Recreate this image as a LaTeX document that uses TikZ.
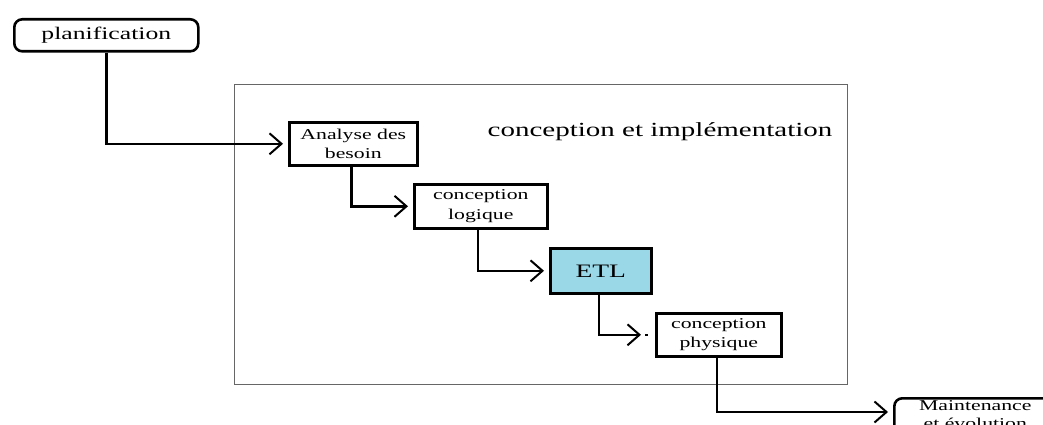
\documentclass[tikz,border=0pt]{standalone}
\usepackage{fontspec}
\setmainfont{Liberation Serif}[FakeStretch=1.45]
\usetikzlibrary{arrows.meta}
\definecolor{etlblue}{HTML}{9AD8E8}
\begin{document}
\begin{tikzpicture}[x=1pt,y=-1pt,
  stepbox/.style={draw,line width=2.6pt,align=center,inner sep=0pt,anchor=north west,
    font=\fontsize{15}{19.5}\selectfont},
  phasebox/.style={draw,line width=2.6pt,rounded corners=8pt,align=center,inner sep=0pt,anchor=north west},
  flow/.style={line width=2.6pt,-{Straight Barb[length=12pt,width=21pt,line width=2pt]}}]
\useasboundingbox (0,0) rectangle (1043,425);
\clip (0,0) rectangle (1043,425);
% outer frame of the design phase
\draw[line width=0.9pt,black!60] (234,84) rectangle (847,384);
\node[font=\fontsize{20}{22}\selectfont] (title) at (660,132) {conception et implémentation};
% phase and step boxes
\node[phasebox,minimum width=184pt,minimum height=32pt,font=\fontsize{17.7}{20}\selectfont] (plan) at (13,18) {planification};
\node[stepbox,minimum width=128pt,minimum height=43pt] (ab) at (288,121) {Analyse des\\besoin};
\node[stepbox,minimum width=133pt,minimum height=44pt] (cl) at (413,183) {conception\\logique};
\node[stepbox,fill=etlblue,minimum width=101pt,minimum height=45pt,font=\fontsize{19}{21}\selectfont] (etl) at (549,247) {ETL};
\node[stepbox,minimum width=125pt,minimum height=43pt] (cp) at (655,312) {conception\\physique};
\node[phasebox,minimum width=162pt,inner sep=2pt,font=\fontsize{15}{18}\selectfont] (me) at (893,397) {Maintenance\\et évolution\\[4pt]};
% connectors
\draw[flow] (plan.south) |- ([xshift=-5pt]ab.west);
\draw[flow] ([xshift=-2pt]ab.south) |- ([xshift=-5pt]cl.west);
\draw[flow] ([xshift=-3pt]cl.south) |- ([xshift=-5pt]etl.west);
\draw[flow] ([xshift=-2pt]etl.south) |- ([xshift=-14pt]cp.west);
\draw[line width=1.8pt] ([xshift=-10pt]cp.west) -- ([xshift=-7pt]cp.west);
\draw[flow] ([xshift=-2pt]cp.south) |- ([xshift=-5pt,yshift=-15pt]me.north west);
\end{tikzpicture}
\end{document}
